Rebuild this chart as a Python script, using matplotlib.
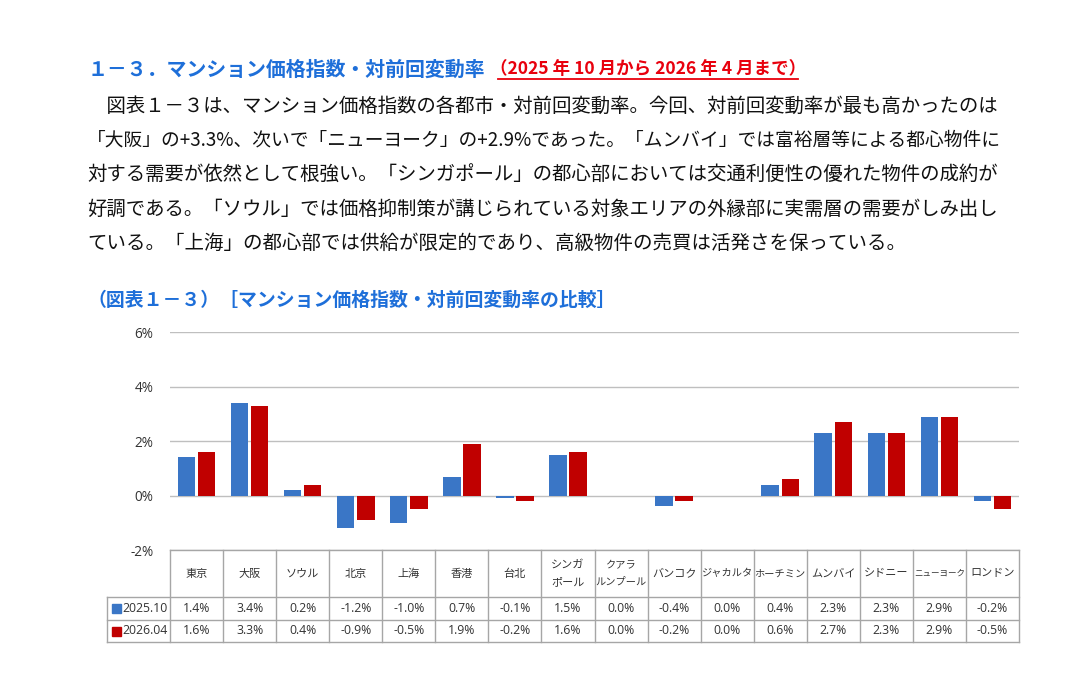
import matplotlib
matplotlib.use("Agg")
import matplotlib.pyplot as plt
from matplotlib.patches import Rectangle
from matplotlib.lines import Line2D

plt.rcParams['font.family'] = ['Noto Sans CJK JP', 'DejaVu Sans']

# ---------------- data ----------------
cities = ["東京", "大阪", "ソウル", "北京", "上海", "香港", "台北", "シンガ\nポール",
          "クアラ\nルンプール", "バンコク", "ジャカルタ", "ホーチミン", "ムンバイ",
          "シドニー", "ニューヨーク", "ロンドン"]
series_names = ["2025.10", "2026.04"]
values_2025_10 = [1.4, 3.4, 0.2, -1.2, -1.0, 0.7, -0.1, 1.5, 0.0, -0.4, 0.0, 0.4, 2.3, 2.3, 2.9, -0.2]
values_2026_04 = [1.6, 3.3, 0.4, -0.9, -0.5, 1.9, -0.2, 1.6, 0.0, -0.2, 0.0, 0.6, 2.7, 2.3, 2.9, -0.5]
yticks = [-2, 0, 2, 4, 6]

title_blue = "１－３．マンション価格指数・対前回変動率"
title_red = "（2025 年 10 月から 2026 年 4 月まで）"
body_lines = [
    "　図表１－３は、マンション価格指数の各都市・対前回変動率。今回、対前回変動率が最も高かったのは",
    "「大阪」の+3.3%、次いで「ニューヨーク」の+2.9%であった。「ムンバイ」では富裕層等による都心物件に",
    "対する需要が依然として根強い。「シンガポール」の都心部においては交通利便性の優れた物件の成約が",
    "好調である。「ソウル」では価格抑制策が講じられている対象エリアの外縁部に実需層の需要がしみ出し",
    "ている。「上海」の都心部では供給が限定的であり、高級物件の売買は活発さを保っている。",
]
subtitle = "（図表１－３）［マンション価格指数・対前回変動率の比較］"

BLUE = "#3a76c6"
RED = "#c00000"
TXT_BLUE = "#1e6fd9"
TXT_RED = "#e8000d"
GRID = "#bfbfbf"
BORDER = "#a6a6a6"
DARK = "#333333"

W, H = 1080, 681
fig = plt.figure(figsize=(W / 100, H / 100), dpi=100)
fig.patch.set_facecolor("white")
fig.canvas.draw()
R = fig.canvas.get_renderer()


def fx(px):
    return px / W


def fy(py):
    return 1 - py / H


def fit(t, target_w, max_fs=None):
    """shrink/grow a text so its rendered width matches target_w pixels"""
    w = t.get_window_extent(R).width
    fs = t.get_fontsize() * target_w / w
    if max_fs is not None:
        fs = min(fs, max_fs)
    t.set_fontsize(fs)
    return t


# ---------------- text block ----------------
t1 = fig.text(fx(88), fy(69), title_blue, color=TXT_BLUE, fontsize=14.2,
              fontweight="bold", va="center", ha="left")
fit(t1, 487 - 88)
bb = t1.get_window_extent(R)
t2 = fig.text((bb.x1 + 4) / W, fy(69), title_red, color=TXT_RED, fontsize=13.2,
              fontweight="bold", va="center", ha="left")
fit(t2, 805 - bb.x1 - 4)
bb2 = t2.get_window_extent(R)
fig.add_artist(Line2D([(bb2.x0 + 8) / W, (bb2.x1 - 8) / W], [fy(79), fy(79)],
                      color=TXT_RED, lw=1.3, transform=fig.transFigure))

line_y = [106, 140, 175, 209, 243]
line_right = [1003, 1003, 1003, 1002, None]
for s, yy, rr in zip(body_lines, line_y, line_right):
    t = fig.text(fx(87), fy(yy), s, color="#111111", fontsize=14.0, va="center", ha="left")
    if rr is not None:
        fit(t, rr - 87, max_fs=14.0)

ts = fig.text(fx(88), fy(300), subtitle, color=TXT_BLUE, fontsize=13.4,
              fontweight="bold", va="center", ha="left")
fit(ts, 617 - 88)

# ---------------- chart ----------------
ax = fig.add_axes([fx(170), fy(550), fx(1019) - fx(170), fy(332.3) - fy(550)])
n = len(cities)
x = list(range(n))
bw = 0.33
off = 0.19
ax.bar([i - off for i in x], values_2025_10, width=bw, color=BLUE, linewidth=0, zorder=3)
ax.bar([i + off for i in x], values_2026_04, width=bw, color=RED, linewidth=0, zorder=3)
ax.set_xlim(-0.5, n - 0.5)
ax.set_ylim(yticks[0], yticks[-1])
ax.set_yticks(yticks)
ax.set_yticklabels([f"{v}%" for v in yticks], fontsize=9.8, color="#333333",
                   family=["Open Sans", "DejaVu Sans"])
ax.set_xticks([])
ax.tick_params(axis="y", length=0, pad=12)
ax.yaxis.grid(True, color=GRID, lw=1)
ax.set_axisbelow(True)
for sp in ax.spines.values():
    sp.set_visible(False)

# ---------------- data table ----------------
colw = (1019 - 170) / n
xl = -0.5 - (170 - 107) / colw
tax = fig.add_axes([fx(107), fy(642), fx(1019) - fx(107), fy(550) - fy(642)])
tax.set_xlim(xl, n - 0.5)
tax.set_ylim(642, 550)
tax.axis("off")

y_top, y_h, y_r1, y_bot = 550, 597, 620, 642
tax.plot([-0.5, n - 0.5], [y_top, y_top], color=BORDER, lw=1, clip_on=False)
for yy in (y_h, y_r1, y_bot):
    tax.plot([xl, n - 0.5], [yy, yy], color=BORDER, lw=1, clip_on=False)
for i in range(n + 1):
    tax.plot([i - 0.5, i - 0.5], [y_top, y_bot], color=BORDER, lw=1, clip_on=False)
tax.plot([xl, xl], [y_h, y_bot], color=BORDER, lw=1, clip_on=False)

tfs = 8.8
for i, c in enumerate(cities):
    th = tax.text(i, (y_top + y_h) / 2, c, ha="center", va="center", fontsize=8.0,
                  color=DARK, linespacing=1.9)
    if th.get_window_extent(R).width > colw - 2:
        fit(th, colw - 2)
    tax.text(i, (y_h + y_r1) / 2, f"{values_2025_10[i]:.1f}%", ha="center",
             va="center", fontsize=tfs, color=DARK, family=["Open Sans", "DejaVu Sans"])
    tax.text(i, (y_r1 + y_bot) / 2, f"{values_2026_04[i]:.1f}%", ha="center",
             va="center", fontsize=tfs, color=DARK, family=["Open Sans", "DejaVu Sans"])

for (nm, col, (ya, yb)) in zip(series_names, [BLUE, RED], [(y_h, y_r1), (y_r1, y_bot)]):
    cy = (ya + yb) / 2
    tax.add_patch(Rectangle((xl + 5 / colw, cy - 4.5), 9 / colw, 9, color=col,
                            clip_on=False))
    tax.text(xl + 15 / colw, cy, nm, ha="left", va="center", fontsize=tfs, color=DARK,
             family=["Open Sans", "DejaVu Sans"])

fig.savefig("out.png", dpi=100, facecolor="white")
